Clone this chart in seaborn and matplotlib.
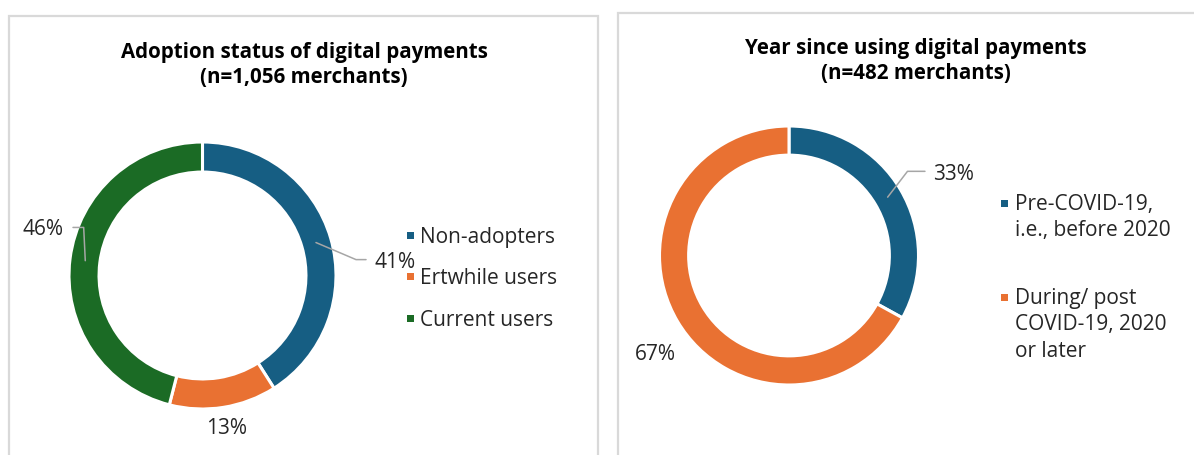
import matplotlib
matplotlib.use("Agg")
import matplotlib.pyplot as plt
import seaborn as sns
import numpy as np
from matplotlib.patches import Rectangle

# Survey results
adoption_labels = ["Non-adopters", "Ertwhile users", "Current users"]
adoption_values = [41, 13, 46]
adoption_title = "Adoption status of digital payments\n(n=1,056 merchants)"

since_labels = ["Pre-COVID-19,\ni.e., before 2020", "During/ post\nCOVID-19, 2020\nor later"]
since_values = [33, 67]
since_title = "Year since using digital payments\n(n=482 merchants)"

BLUE, ORANGE, GREEN = "#165E83", "#E97132", "#1B6B25"
adoption_colors = [BLUE, ORANGE, GREEN]
since_colors = [BLUE, ORANGE]

sns.set_theme(style="white")
plt.rcParams["font.family"] = ["Open Sans", "DejaVu Sans"]

W, H = 1194, 456
fig = plt.figure(figsize=(W / 100, H / 100), dpi=100)
fig.patch.set_facecolor("white")

# Overlay in pixel coordinates for panel frames, titles and legends
ov = fig.add_axes([0, 0, 1, 1])
ov.set_xlim(0, W)
ov.set_ylim(H, 0)
ov.axis("off")

FRAME = "#D9D9D9"
TEXT = "#262626"
LEADER = "#A6A6A6"
LAB_FS = 15
LEG_FS = 15
TITLE_FS = 14.8

# Panel frames
ov.plot([9, 9, 598, 598], [460, 17, 17, 460], color=FRAME, lw=1.6, solid_joinstyle="miter")
ov.plot([618, 618, 1200], [460, 14, 14], color=FRAME, lw=1.6, solid_joinstyle="miter")

# Titles
ov.text(304, 65, adoption_title, ha="center", va="center", fontsize=TITLE_FS,
        fontweight="bold", color="black", linespacing=1.2)
ov.text(916, 61, since_title, ha="center", va="center", fontsize=TITLE_FS,
        fontweight="bold", color="black", linespacing=1.2)


def donut(cx, cy, R, values, colors):
    k = 1.6
    ax = fig.add_axes([(cx - R * k) / W, (H - cy - R * k) / H, 2 * R * k / W, 2 * R * k / H])
    ax.pie(values, colors=colors, startangle=90, counterclock=False, radius=1,
           wedgeprops=dict(width=0.225, edgecolor="white", linewidth=2.2))
    ax.set_xlim(-k, k)
    ax.set_ylim(-k, k)
    ax.set_aspect("equal")
    ax.axis("off")
    return ax


def mid_angle(values, i):
    total = sum(values)
    start = sum(values[:i])
    return np.deg2rad(90 - (start + values[i] / 2) / total * 360)


# Left donut
axL = donut(202.5, 276.5, 133.5, adoption_values, adoption_colors)
rm = 0.885
# 41% with leader
a = mid_angle(adoption_values, 0)
p0 = (rm * np.cos(a), rm * np.sin(a))
axL.plot([p0[0], 1.15, 1.225], [p0[1], 0.119, 0.119], color=LEADER, lw=1.1, clip_on=False)
axL.text(1.29, 0.105, f"{adoption_values[0]}%", ha="left", va="center", fontsize=LAB_FS, color=TEXT)
# 13% directly below
a = mid_angle(adoption_values, 1)
axL.text(1.15 * np.cos(a), 1.15 * np.sin(a), f"{adoption_values[1]}%", ha="center",
         va="center", fontsize=LAB_FS, color=TEXT)
# 46% with leader
a = mid_angle(adoption_values, 2)
p0 = (rm * np.cos(a), rm * np.sin(a))
axL.plot([p0[0], -0.89, -0.97], [p0[1], 0.36, 0.36], color=LEADER, lw=1.1, clip_on=False)
axL.text(-1.04, 0.35, f"{adoption_values[2]}%", ha="right", va="center", fontsize=LAB_FS, color=TEXT)

# Right donut
axR = donut(789, 256.5, 129.5, since_values, since_colors)
a = mid_angle(since_values, 0)
p0 = (rm * np.cos(a), rm * np.sin(a))
axR.plot([p0[0], 0.915, 1.05], [p0[1], 0.65, 0.65], color=LEADER, lw=1.1, clip_on=False)
axR.text(1.11, 0.635, f"{since_values[0]}%", ha="left", va="center", fontsize=LAB_FS, color=TEXT)
a = mid_angle(since_values, 1) + np.deg2rad(5.8)
axR.text(1.28 * np.cos(a), 1.28 * np.sin(a), f"{since_values[1]}%", ha="center",
         va="center", fontsize=LAB_FS, color=TEXT)

# Legends
SQ = 7
for lab, col, y in zip(adoption_labels, adoption_colors, [236, 277, 319]):
    ov.add_patch(Rectangle((407, y - SQ / 2), SQ, SQ, color=col, lw=0))
    ov.text(420, y + 2, lab, ha="left", va="center", fontsize=LEG_FS, color=TEXT)

for lab, col, y in zip(since_labels, since_colors, [204, 298]):
    ov.add_patch(Rectangle((1001, y - SQ / 2), SQ, SQ, color=col, lw=0))
    ov.text(1015, y - 10, lab, ha="left", va="top", fontsize=LEG_FS, color=TEXT, linespacing=1.33)

fig.savefig("out.png", dpi=100, facecolor="white")
